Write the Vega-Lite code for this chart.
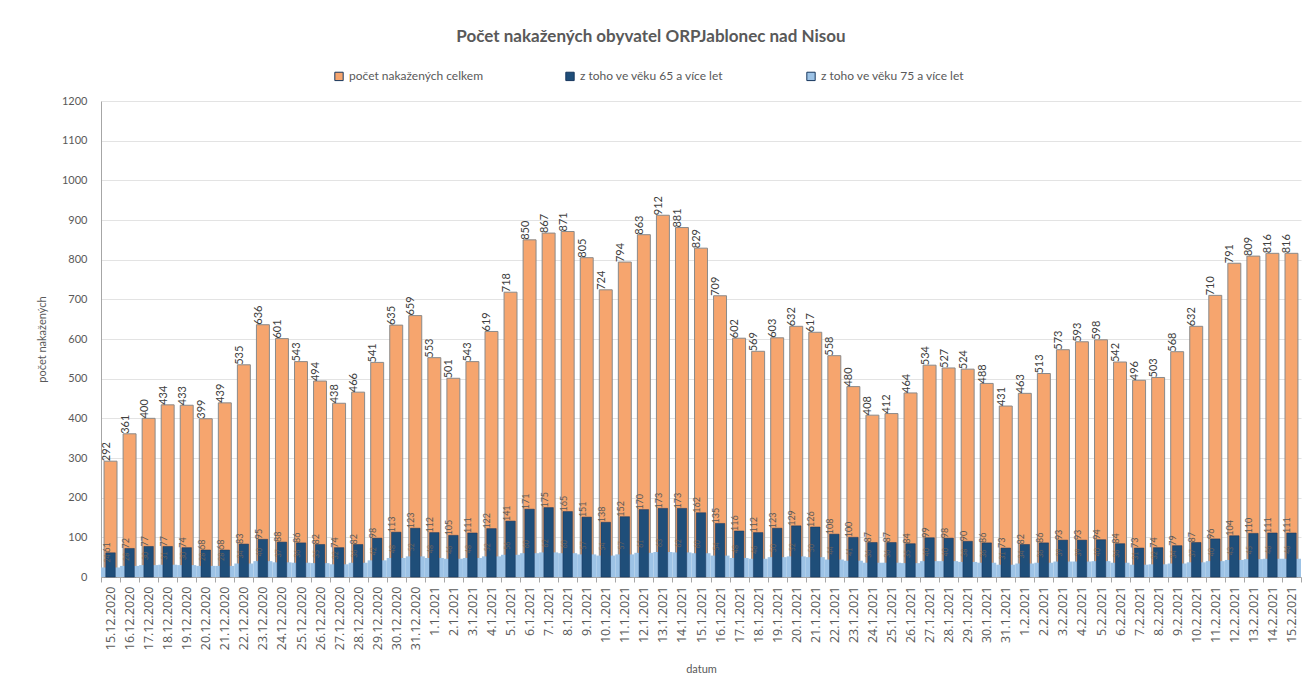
{
  "$schema": "https://vega.github.io/schema/vega-lite/v6.json",
  "autosize": {"type": "none"},
  "width": 1200,
  "height": 476,
  "padding": {"left": 101, "top": 101, "right": 5, "bottom": 109},
  "background": "white",
  "config": {
    "font": "Lato",
    "view": {"stroke": null},
    "axis": {"labelColor": "#595959", "titleColor": "#595959", "titleFontWeight": "normal", "domainColor": "#a6a6a6", "tickColor": "#a6a6a6", "gridColor": "#e3e3e3"},
    "axisQuantitative": {"tickCount": 12}
  },
  "title": {"text": "Počet nakažených obyvatel ORPJablonec nad Nisou", "fontSize": 17, "fontWeight": "bold", "color": "#595959", "anchor": "middle", "dx": -50, "offset": 24},
  "data": {"values": [
    {"d": "15.12.2020", "total": 292, "s65": 61, "s75": 24},
    {"d": "16.12.2020", "total": 361, "s65": 72, "s75": 28},
    {"d": "17.12.2020", "total": 400, "s65": 77, "s75": 30},
    {"d": "18.12.2020", "total": 434, "s65": 77, "s75": 31},
    {"d": "19.12.2020", "total": 433, "s65": 74, "s75": 30},
    {"d": "20.12.2020", "total": 399, "s65": 68, "s75": 28},
    {"d": "21.12.2020", "total": 439, "s65": 68, "s75": 28},
    {"d": "22.12.2020", "total": 535, "s65": 83, "s75": 34},
    {"d": "23.12.2020", "total": 636, "s65": 95, "s75": 40},
    {"d": "24.12.2020", "total": 601, "s65": 88, "s75": 37},
    {"d": "25.12.2020", "total": 543, "s65": 86, "s75": 36},
    {"d": "26.12.2020", "total": 494, "s65": 82, "s75": 35},
    {"d": "27.12.2020", "total": 438, "s65": 74, "s75": 32},
    {"d": "28.12.2020", "total": 466, "s65": 82, "s75": 36},
    {"d": "29.12.2020", "total": 541, "s65": 98, "s75": 42},
    {"d": "30.12.2020", "total": 635, "s65": 113, "s75": 48},
    {"d": "31.12.2020", "total": 659, "s65": 123, "s75": 52},
    {"d": "1.1.2021", "total": 553, "s65": 112, "s75": 48},
    {"d": "2.1.2021", "total": 501, "s65": 105, "s75": 46},
    {"d": "3.1.2021", "total": 543, "s65": 111, "s75": 48},
    {"d": "4.1.2021", "total": 619, "s65": 122, "s75": 52},
    {"d": "5.1.2021", "total": 718, "s65": 141, "s75": 56},
    {"d": "6.1.2021", "total": 850, "s65": 171, "s75": 60},
    {"d": "7.1.2021", "total": 867, "s65": 175, "s75": 62},
    {"d": "8.1.2021", "total": 871, "s65": 165, "s75": 60},
    {"d": "9.1.2021", "total": 805, "s65": 151, "s75": 57},
    {"d": "10.1.2021", "total": 724, "s65": 138, "s75": 54},
    {"d": "11.1.2021", "total": 794, "s65": 152, "s75": 57},
    {"d": "12.1.2021", "total": 863, "s65": 170, "s75": 61},
    {"d": "13.1.2021", "total": 912, "s65": 173, "s75": 63},
    {"d": "14.1.2021", "total": 881, "s65": 173, "s75": 62},
    {"d": "15.1.2021", "total": 829, "s65": 162, "s75": 60},
    {"d": "16.1.2021", "total": 709, "s65": 135, "s75": 54},
    {"d": "17.1.2021", "total": 602, "s65": 116, "s75": 48},
    {"d": "18.1.2021", "total": 569, "s65": 112, "s75": 46},
    {"d": "19.1.2021", "total": 603, "s65": 123, "s75": 50},
    {"d": "20.1.2021", "total": 632, "s65": 129, "s75": 52},
    {"d": "21.1.2021", "total": 617, "s65": 126, "s75": 50},
    {"d": "22.1.2021", "total": 558, "s65": 108, "s75": 44},
    {"d": "23.1.2021", "total": 480, "s65": 100, "s75": 41},
    {"d": "24.1.2021", "total": 408, "s65": 87, "s75": 36},
    {"d": "25.1.2021", "total": 412, "s65": 87, "s75": 36},
    {"d": "26.1.2021", "total": 464, "s65": 84, "s75": 35},
    {"d": "27.1.2021", "total": 534, "s65": 99, "s75": 40},
    {"d": "28.1.2021", "total": 527, "s65": 98, "s75": 40},
    {"d": "29.1.2021", "total": 524, "s65": 90, "s75": 38},
    {"d": "30.1.2021", "total": 488, "s65": 86, "s75": 36},
    {"d": "31.1.2021", "total": 431, "s65": 73, "s75": 31},
    {"d": "1.2.2021", "total": 463, "s65": 82, "s75": 34},
    {"d": "2.2.2021", "total": 513, "s65": 86, "s75": 36},
    {"d": "3.2.2021", "total": 573, "s65": 93, "s75": 39},
    {"d": "4.2.2021", "total": 593, "s65": 93, "s75": 39},
    {"d": "5.2.2021", "total": 598, "s65": 94, "s75": 40},
    {"d": "6.2.2021", "total": 542, "s65": 84, "s75": 36},
    {"d": "7.2.2021", "total": 496, "s65": 73, "s75": 31},
    {"d": "8.2.2021", "total": 503, "s65": 74, "s75": 32},
    {"d": "9.2.2021", "total": 568, "s65": 79, "s75": 34},
    {"d": "10.2.2021", "total": 632, "s65": 87, "s75": 37},
    {"d": "11.2.2021", "total": 710, "s65": 96, "s75": 40},
    {"d": "12.2.2021", "total": 791, "s65": 104, "s75": 43},
    {"d": "13.2.2021", "total": 809, "s65": 110, "s75": 45},
    {"d": "14.2.2021", "total": 816, "s65": 111, "s75": 46},
    {"d": "15.2.2021", "total": 816, "s65": 111, "s75": 46}
  ]},
  "encoding": {
    "x": {"field": "d", "type": "ordinal", "sort": null, "title": "datum",
      "scale": {"paddingInner": 0, "paddingOuter": 0},
      "axis": {"labelAngle": 270, "labelFont": "Open Sans", "labelFontSize": 12.5, "labelPadding": 4, "titleFontSize": 11, "titlePadding": 14, "tickBand": "extent", "tickSize": 5}}
  },
  "layer": [
    {
      "mark": {"type": "bar", "width": {"band": 0.68}, "stroke": "#8a8a8a", "strokeWidth": 1},
      "encoding": {
        "y": {"field": "total", "type": "quantitative", "title": "počet nakažených",
          "scale": {"domain": [0, 1200], "nice": false},
          "axis": {"tickCount": 12, "format": "d", "labelFontSize": 11, "titleFontSize": 11, "titlePadding": 14, "tickSize": 0, "labelPadding": 14, "grid": true}},
        "color": {"datum": "počet nakažených celkem", "type": "nominal",
          "scale": {"domain": ["počet nakažených celkem", "z toho ve věku 65 a více let", "z toho ve věku 75 a více let"], "range": ["#F6A56E", "#1F4E79", "#9DC3E6"]},
          "legend": {"title": null, "orient": "none", "legendX": 232, "legendY": -31, "direction": "horizontal", "symbolType": "square", "symbolSize": 70, "symbolStrokeColor": "#8a8a8a", "symbolStrokeWidth": 1, "labelFontSize": 12, "labelColor": "#595959", "columnPadding": 80, "labelOffset": 4}}
      }
    },
    {
      "mark": {"type": "bar", "width": {"band": 1}},
      "encoding": {
        "y": {"field": "s75", "type": "quantitative", "title": "počet nakažených"},
        "color": {"datum": "z toho ve věku 75 a více let", "type": "nominal"}
      }
    },
    {
      "mark": {"type": "bar", "width": {"band": 0.5}, "stroke": "#17375e", "strokeWidth": 0.5},
      "encoding": {
        "y": {"field": "s65", "type": "quantitative", "title": "počet nakažených"},
        "color": {"datum": "z toho ve věku 65 a více let", "type": "nominal"}
      }
    },
    {
      "mark": {"type": "text", "angle": 270, "align": "left", "baseline": "middle", "dy": -4, "fontSize": 11, "color": "#404040"},
      "encoding": {
        "y": {"field": "total", "type": "quantitative", "title": "počet nakažených"},
        "text": {"field": "total", "type": "quantitative"}
      }
    },
    {
      "mark": {"type": "text", "angle": 270, "align": "left", "baseline": "middle", "dy": -4, "fontSize": 9, "color": "#595959"},
      "encoding": {
        "y": {"field": "s65", "type": "quantitative", "title": "počet nakažených"},
        "text": {"field": "s65", "type": "quantitative"}
      }
    },
    {
      "mark": {"type": "text", "angle": 270, "align": "left", "baseline": "middle", "dy": -3, "dx": 5, "fontSize": 7, "color": "#8a6a50", "opacity": 0.7},
      "encoding": {
        "y": {"field": "s75", "type": "quantitative", "title": "počet nakažených"},
        "text": {"field": "s75", "type": "quantitative"}
      }
    }
  ]
}
